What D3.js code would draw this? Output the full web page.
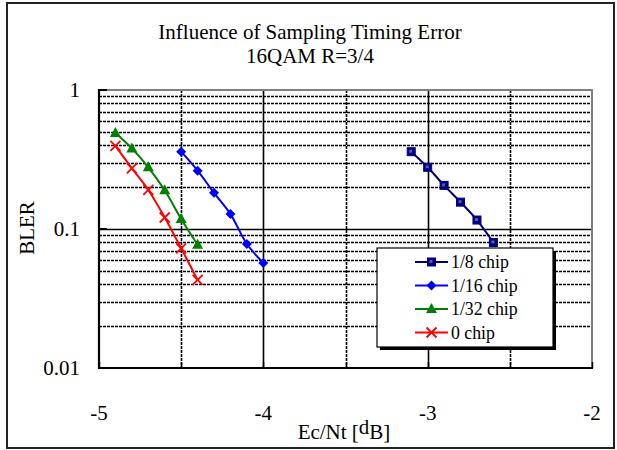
<!DOCTYPE html>
<html>
<head>
<meta charset="utf-8">
<script src="https://cdn.jsdelivr.net/npm/d3@7"></script>
<style>
  body { margin: 0; background: #fff; }
  svg { display: block; font-family: "Liberation Serif", "Times New Roman", serif; }
</style>
</head>
<body>
<svg id="chart" width="617" height="450"></svg>
<script>
// DATA
const seriesNames = ["1/8 chip", "1/16 chip", "1/32 chip", "0 chip"];
const xChip8 = [-3.1, -3.0, -2.9, -2.8, -2.7, -2.6];
const yChip8 = [0.36, 0.278, 0.206, 0.156, 0.116, 0.08];
const xChip16 = [-4.5, -4.4, -4.3, -4.2, -4.1, -4.0];
const yChip16 = [0.36, 0.263, 0.182, 0.128, 0.078, 0.057];
const xChip32 = [-4.9, -4.8, -4.7, -4.6, -4.5, -4.4];
const yChip32 = [0.49, 0.38, 0.278, 0.19, 0.118, 0.077];
const xChip0 = [-4.9, -4.8, -4.7, -4.6, -4.5, -4.4];
const yChip0 = [0.396, 0.273, 0.191, 0.121, 0.0726, 0.043];
const xTicks = [-5, -4, -3, -2];
const yTicks = [1, 0.1, 0.01];
const titleLines = ["Influence of Sampling Timing Error", "16QAM R=3/4"];

const svg = d3.select("#chart");

// CANVAS SETUP
const margin = { top: 90, right: 25, bottom: 82, left: 99 },
  width = 617 - margin.left - margin.right,
  height = 450 - margin.top - margin.bottom;

const x = d3.scaleLinear().domain([-5, -2]).range([0, width]);
const y = d3.scaleLog().domain([0.01, 1]).range([height, 0]);
const crisp = (v) => Math.round(v) + 0.5;

// outer frame
svg.append("rect")
  .attr("x", 7).attr("y", 3).attr("width", 607).attr("height", 445)
  .attr("fill", "none").attr("stroke", "#222").attr("stroke-width", 2);

// title
svg.append("g").selectAll("text").data(titleLines).join("text")
  .attr("text-anchor", "middle")
  .attr("font-size", 21)
  .attr("x", 310)
  .attr("y", (d, i) => 39 + i * 24)
  .text((d) => d);

const g = svg.append("g").attr("transform", `translate(${margin.left},${margin.top})`);

// horizontal gridlines
const minorY = [];
[0.01, 0.1].forEach((d) => {
  for (let k = 2; k <= 9; k++) minorY.push(d * k);
});
g.append("g").selectAll("line").data(minorY).join("line")
  .attr("x1", 0).attr("x2", width)
  .attr("y1", (d) => crisp(y(d))).attr("y2", (d) => crisp(y(d)))
  .attr("stroke", "#000").attr("stroke-width", 1.6)
  .attr("stroke-dasharray", "3,1");
g.append("line")
  .attr("x1", 0).attr("x2", width)
  .attr("y1", crisp(y(0.1))).attr("y2", crisp(y(0.1)))
  .attr("stroke", "#000").attr("stroke-width", 1.6);

// vertical gridlines
const vGrid = d3.range(-4.5, -2, 0.5);
g.append("g").selectAll("line").data(vGrid).join("line")
  .attr("x1", (d) => crisp(x(d))).attr("x2", (d) => crisp(x(d)))
  .attr("y1", 0).attr("y2", height)
  .attr("stroke", "#000").attr("stroke-width", 1.6)
  .attr("stroke-dasharray", (d) => (Number.isInteger(d) ? null : "3,1"));

// plot border top / right (gray)
g.append("path")
  .attr("d", `M0,0H${width}V${height}`)
  .attr("fill", "none").attr("stroke", "#808080").attr("stroke-width", 2);

// axes
g.append("line").attr("x1", 0).attr("x2", 0).attr("y1", -1).attr("y2", height + 1)
  .attr("stroke", "#000").attr("stroke-width", 2.2);
g.append("line").attr("x1", -1).attr("x2", width + 1).attr("y1", height).attr("y2", height)
  .attr("stroke", "#000").attr("stroke-width", 2.2);

// axis ticks (inside)
g.append("g").selectAll("line").data(d3.range(-5, -1.9, 0.5)).join("line")
  .attr("x1", (d) => crisp(x(d))).attr("x2", (d) => crisp(x(d)))
  .attr("y1", height).attr("y2", height - 6)
  .attr("stroke", "#000").attr("stroke-width", 1.5);
g.append("g").selectAll("line").data(yTicks).join("line")
  .attr("x1", 0).attr("x2", 8)
  .attr("y1", (d) => y(d)).attr("y2", (d) => y(d))
  .attr("stroke", "#000").attr("stroke-width", 2);

// tick labels
g.append("g").selectAll("text").data(xTicks).join("text")
  .attr("x", (d) => x(d)).attr("y", height + 52)
  .attr("text-anchor", "middle").attr("font-size", 21)
  .text((d) => d);
g.append("g").selectAll("text").data(yTicks).join("text")
  .attr("x", -19).attr("y", (d) => y(d) + 7)
  .attr("text-anchor", "end").attr("font-size", 21)
  .text((d) => d);

// axis titles
const xl = svg.append("text")
  .attr("x", 344).attr("y", 439).attr("text-anchor", "middle").attr("font-size", 21);
xl.append("tspan").text("Ec/Nt [");
xl.append("tspan").attr("dy", -5).text("d");
xl.append("tspan").attr("dy", 5).text("B]");
svg.append("text")
  .attr("transform", "translate(34,228) rotate(-90)")
  .attr("text-anchor", "middle").attr("font-size", 21)
  .text("BLER");

// SERIES
const series = [
  { name: seriesNames[0], xs: xChip8, ys: yChip8, color: "#000080", marker: "square" },
  { name: seriesNames[1], xs: xChip16, ys: yChip16, color: "#0000ff", marker: "diamond" },
  { name: seriesNames[2], xs: xChip32, ys: yChip32, color: "#008000", marker: "triangle" },
  { name: seriesNames[3], xs: xChip0, ys: yChip0, color: "#ff0000", marker: "cross" },
];

const line = d3.line()
  .x((d) => x(d[0]))
  .y((d) => y(d[1]))
  .curve(d3.curveCatmullRom.alpha(0.5));

function drawMarker(sel, type, color) {
  if (type === "square") {
    sel.append("rect").attr("x", -4).attr("y", -4).attr("width", 8).attr("height", 8)
      .attr("fill", color).attr("stroke", color).attr("stroke-width", 1);
    sel.append("rect").attr("x", -2).attr("y", -2).attr("width", 3).attr("height", 3)
      .attr("fill", "#5a5ab0");
  } else if (type === "diamond") {
    sel.append("path").attr("d", "M0,-5L5,0L0,5L-5,0Z").attr("fill", color);
  } else if (type === "triangle") {
    sel.append("path").attr("d", "M0,-6L5.5,4L-5.5,4Z").attr("fill", color);
  } else {
    sel.append("path").attr("d", "M-5,-5L5,5M-5,5L5,-5")
      .attr("stroke", color).attr("stroke-width", 1.8).attr("fill", "none");
  }
}

const sg = g.append("g").selectAll("g").data(series).join("g");
sg.append("path")
  .attr("d", (s) => line(s.xs.map((v, i) => [v, s.ys[i]])))
  .attr("fill", "none")
  .attr("stroke", (s) => s.color)
  .attr("stroke-width", 2);
sg.each(function (s) {
  d3.select(this).selectAll("g.m")
    .data(s.xs.map((v, i) => [v, s.ys[i]]))
    .join("g").attr("class", "m")
    .attr("transform", (d) => `translate(${x(d[0])},${y(d[1])})`)
    .each(function () { drawMarker(d3.select(this), s.marker, s.color); });
});

// LEGEND
const legend = svg.append("g").attr("transform", "translate(377,248)");
legend.append("rect").attr("x", 3).attr("y", 3).attr("width", 176).attr("height", 99).attr("fill", "#000");
legend.append("rect").attr("x", 0).attr("y", 0).attr("width", 176).attr("height", 99)
  .attr("fill", "#fff").attr("stroke", "#000").attr("stroke-width", 1.2);
const li = legend.selectAll("g.item").data(series).join("g").attr("class", "item")
  .attr("transform", (d, i) => `translate(0,${14 + i * 23.5})`);
li.append("line").attr("x1", 38).attr("x2", 71).attr("y1", 0).attr("y2", 0)
  .attr("stroke", (d) => d.color).attr("stroke-width", 2);
li.each(function (s) {
  const m = d3.select(this).append("g").attr("transform", "translate(54.5,0)");
  drawMarker(m, s.marker, s.color);
});
li.append("text").attr("x", 74).attr("y", 6).attr("font-size", 17.8).text((d) => d.name);
</script>
</body>
</html>
